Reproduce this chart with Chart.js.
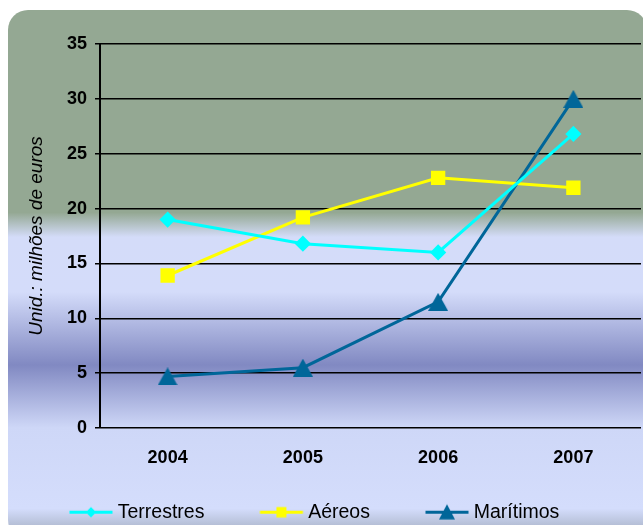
<!DOCTYPE html>
<html>
<head>
<meta charset="utf-8">
<script src="https://cdn.jsdelivr.net/npm/chart.js@4.4.1/dist/chart.umd.min.js"></script>
<style>
  html, body { margin: 0; padding: 0; background: #fff; }
  #caixa { width: 643px; height: 525px; overflow: hidden; }
</style>
</head>
<body>
<div id="caixa"><canvas id="grafico" width="643" height="532"></canvas></div>
<script>
// dados do gráfico (milhões de euros)
var anos = ['2004', '2005', '2006', '2007'];
var terrestres = [19.0, 16.8, 16.0, 26.8];
var aereos = [13.9, 19.2, 22.8, 21.9];
var maritimos = [4.7, 5.5, 11.5, 30.0];
var nomesSeries = ['Terrestres', 'Aéreos', 'Marítimos'];
var eixoY = { min: 0, max: 35, passo: 5 };

var fonte = 'Arial, "Liberation Sans", sans-serif';
var corTerr = '#00ffff', corAer = '#ffff00', corMar = '#006699';

// triângulo centrado na caixa (como no Excel), usado como pointStyle
function triangulo(cor, larg, alt) {
  var c = document.createElement('canvas');
  c.width = larg;
  c.height = alt;
  var ctx = c.getContext('2d');
  ctx.fillStyle = cor;
  ctx.beginPath();
  ctx.moveTo(larg / 2, 0);
  ctx.lineTo(larg, alt);
  ctx.lineTo(0, alt);
  ctx.closePath();
  ctx.fill();
  return c;
}
var trianguloMar = triangulo(corMar, 20, 18);

// ícone da legenda: linha + marcador (canvas usado como pointStyle)
var larguraCaixa = 72;
function iconeLegenda(cor, estilo, raio) {
  var c = document.createElement('canvas');
  c.width = 84;
  c.height = 25;
  var ctx = c.getContext('2d');
  var x0 = larguraCaixa / 2 + 3.5;
  ctx.strokeStyle = cor;
  ctx.lineWidth = 3;
  ctx.beginPath();
  ctx.moveTo(x0, 12.5);
  ctx.lineTo(x0 + 43, 12.5);
  ctx.stroke();
  ctx.fillStyle = cor;
  var xm = Math.round(x0 + 21.5);
  if (estilo === 'triangle') {
    ctx.beginPath();
    ctx.moveTo(xm, 12.5 - raio);
    ctx.lineTo(xm + raio, 12.5 + raio * 0.9);
    ctx.lineTo(xm - raio, 12.5 + raio * 0.9);
    ctx.closePath();
  } else {
    Chart.helpers.drawPoint(ctx, { pointStyle: estilo, radius: raio, borderWidth: 0, rotation: 0 }, xm, 12.5);
  }
  ctx.fill();
  return c;
}
var icones = [
  iconeLegenda(corTerr, 'rectRot', 5),
  iconeLegenda(corAer, 'rect', 7),
  iconeLegenda(corMar, 'triangle', 8)
];

// fundo: retângulo arredondado com degradê
var fundo = {
  id: 'fundo',
  beforeDraw: function(chart) {
    var ctx = chart.ctx;
    ctx.save();
    var g = ctx.createLinearGradient(0, 10, 0, 532);
    g.addColorStop(0, '#94a893');
    g.addColorStop(0.388, '#94a893');
    g.addColorStop(0.435, '#d4dcf9');
    g.addColorStop(0.54, '#d4dcfa');
    g.addColorStop(0.68, '#8189c2');
    g.addColorStop(0.80, '#ced7f7');
    g.addColorStop(0.955, '#d4ddfc');
    g.addColorStop(1, '#a8b2c6');
    ctx.fillStyle = g;
    ctx.beginPath();
    ctx.roundRect(8, 10, 639, 530, 20);
    ctx.fill();
    ctx.restore();
  }
};

var grafico = new Chart(document.getElementById('grafico'), {
  type: 'line',
  data: {
    labels: anos,
    datasets: [
      {
        label: nomesSeries[0], data: terrestres,
        borderColor: corTerr, backgroundColor: corTerr, borderWidth: 3,
        pointStyle: 'rectRot', pointRadius: 6, pointHoverRadius: 6
      },
      {
        label: nomesSeries[1], data: aereos,
        borderColor: corAer, backgroundColor: corAer, borderWidth: 3,
        pointStyle: 'rect', pointRadius: 8, pointHoverRadius: 8
      },
      {
        label: nomesSeries[2], data: maritimos,
        borderColor: corMar, backgroundColor: corMar, borderWidth: 3,
        pointStyle: trianguloMar, pointRadius: 10, pointHoverRadius: 10
      }
    ]
  },
  options: {
    responsive: false,
    animation: false,
    events: [],
    layout: { autoPadding: false, padding: { left: 14, right: 2, top: 44, bottom: 0 } },
    elements: { line: { tension: 0 }, point: { borderWidth: 0 } },
    scales: {
      x: {
        offset: true,
        grid: { display: false },
        border: { display: false },
        ticks: { color: '#000', padding: 11, font: { family: fonte, size: 18, weight: 'bold' } },
        afterFit: function(s) { s.height = 52.5; s.paddingLeft = 0; s.paddingRight = 0; }
      },
      y: {
        min: eixoY.min,
        max: eixoY.max,
        ticks: { stepSize: eixoY.passo, color: '#000', padding: 8, font: { family: fonte, size: 18, weight: 'bold' } },
        grid: { color: '#000', lineWidth: 1.5, tickLength: 5, tickColor: '#000' },
        border: { display: true, color: '#000', width: 2 },
        title: {
          display: true,
          text: 'Unid.: milhões de euros',
          color: '#000',
          padding: { top: 11, bottom: 0 },
          font: { family: fonte, size: 19, style: 'italic' }
        },
        afterFit: function(s) { s.width = 86; }
      }
    },
    plugins: {
      tooltip: { enabled: false },
      legend: {
        position: 'bottom',
        align: 'start',
        labels: {
          usePointStyle: true,
          pointStyleWidth: larguraCaixa,
          padding: 22,
          color: '#000',
          font: { family: fonte, size: 19.5 },
          generateLabels: function(chart) {
            var itens = Chart.defaults.plugins.legend.labels.generateLabels(chart);
            itens.forEach(function(it, i) { it.pointStyle = icones[i]; });
            return itens;
          }
        }
      }
    }
  },
  plugins: [fundo]
});
</script>
</body>
</html>
